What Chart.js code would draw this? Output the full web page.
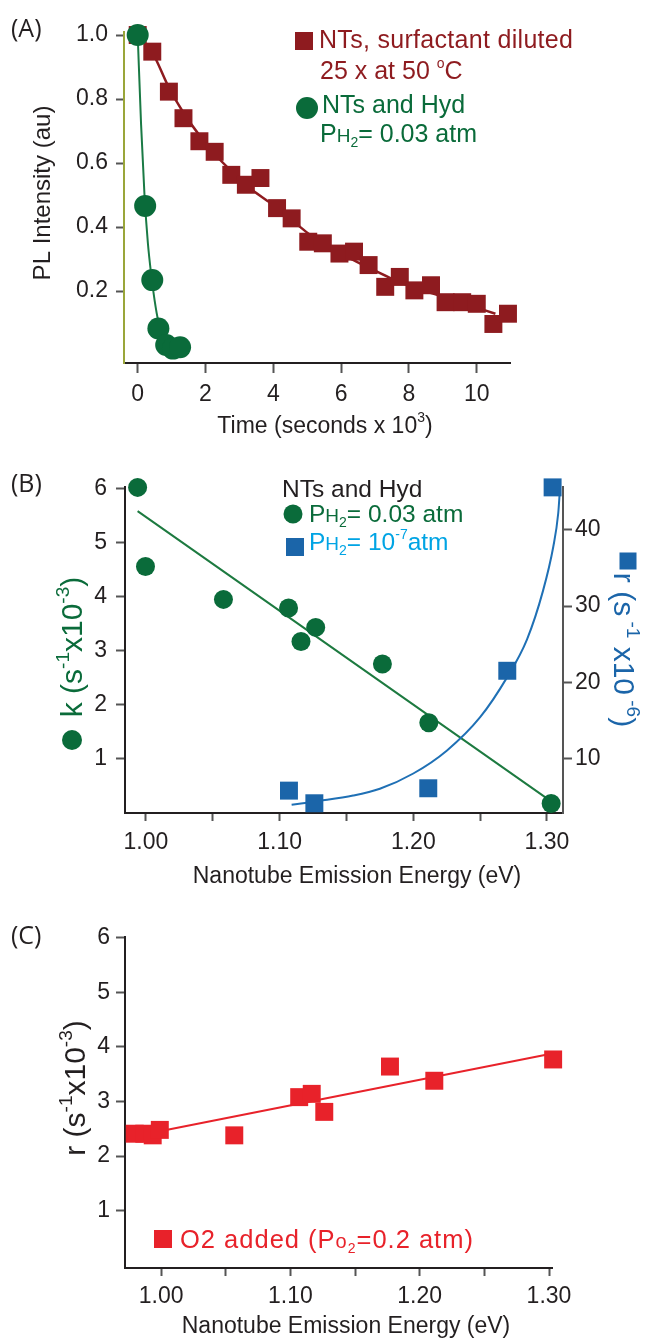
<!DOCTYPE html>
<html>
<head>
<meta charset="utf-8">
<script src="https://cdn.jsdelivr.net/npm/chart.js@4.4.1/dist/chart.umd.min.js"></script>
<style>
body { margin: 0; background: #fff; }
canvas { position: absolute; left: 0; }
</style>
</head>
<body>
<canvas id="panelA" width="653" height="440" style="top:0px"></canvas>
<canvas id="panelB" width="653" height="450" style="top:440px"></canvas>
<canvas id="panelC" width="653" height="450" style="top:890px"></canvas>
<script>
/* globals Chart: false */

// (A) PL decay
var timeSurf = [0, 0.43, 0.92, 1.35, 1.82, 2.27, 2.76, 3.19, 3.62, 4.11, 4.54, 5.03, 5.46,
                5.95, 6.38, 6.81, 7.3, 7.73, 8.16, 8.65, 9.08, 9.57, 10.0, 10.49, 10.92];
var plSurf = [1.0, 0.948, 0.823, 0.74, 0.668, 0.635, 0.563, 0.532, 0.553, 0.459, 0.427, 0.354, 0.349,
              0.317, 0.323, 0.281, 0.213, 0.244, 0.202, 0.218, 0.165, 0.165, 0.160, 0.097, 0.129];
var fitSurfT = [0, 0.43, 0.92, 1.35, 1.84, 2.33, 2.82, 3.31, 3.93, 4.54, 5.03, 5.64, 6.26,
                6.87, 7.48, 8.1, 8.71, 9.33, 9.94, 10.55];
var fitSurfY = [1.0, 0.946, 0.836, 0.757, 0.684, 0.621, 0.569, 0.521, 0.474, 0.422, 0.38, 0.338, 0.302,
                0.27, 0.239, 0.213, 0.192, 0.171, 0.15, 0.129];
var timeHyd = [0.0, 0.22, 0.43, 0.61, 0.84, 1.04, 1.25];
var plHyd = [1.0, 0.466, 0.234, 0.083, 0.031, 0.02, 0.024];
var fitHydT = [0, 0.1, 0.2, 0.3, 0.4, 0.5, 0.6, 0.8, 1.0, 1.3];
var fitHydY = [1.0, 0.72, 0.5, 0.35, 0.25, 0.17, 0.11, 0.055, 0.035, 0.022];
var timeTicks = [0, 2, 4, 6, 8, 10];
var plTicks = [0.2, 0.4, 0.6, 0.8, 1.0];

// (B) k and r against emission energy
var energyK = [0.9938, 0.9997, 1.058, 1.1067, 1.116, 1.127, 1.1769, 1.2116, 1.3031];
var kVals = [6.03, 4.56, 3.95, 3.79, 3.17, 3.43, 2.75, 1.66, 0.16];
var kFitX = [0.9938, 1.3031];
var kFitY = [5.59, 0.20];
var energyR = [1.107, 1.126, 1.2112, 1.2703, 1.3042];
var rVals = [5.75, 4.09, 6.06, 21.5, 45.6];
var rFitX = [1.109, 1.13, 1.155, 1.175, 1.20, 1.225, 1.25, 1.27, 1.285, 1.297, 1.3047, 1.3084, 1.3097];
var rFitY = [3.9, 4.4, 5.1, 6.0, 8.0, 11.0, 15.4, 20.6, 25.6, 32.0, 37.8, 42.2, 45.4];
var energyTicks = [1.00, 1.05, 1.10, 1.15, 1.20, 1.25, 1.30];
var kTicks = [1, 2, 3, 4, 5, 6];
var rTicks = [10, 20, 30, 40];

// (C) O2 added
var energyO2 = [0.9796, 0.987, 0.9935, 0.999, 1.0566, 1.1068, 1.1165, 1.1262, 1.177, 1.2113, 1.3032];
var rO2 = [2.41, 2.41, 2.38, 2.48, 2.38, 3.08, 3.14, 2.81, 3.64, 3.38, 3.77];
var o2FitX = [1.0, 1.3026];
var o2FitY = [2.46, 3.88];
var rO2Ticks = [1, 2, 3, 4, 5, 6];

var FONT = "'Liberation Sans', Arial, sans-serif";
var INK = '#231f20';
var DARK_RED = '#8e1b1f';
var GREEN = '#0a6b3a';
var BLUE = '#1b65a9';
var LIGHT_BLUE = '#00a4e4';
var RED = '#e8222a';

function pts(xs, ys) {
    return xs.map(function(x, i) { return {x: x, y: ys[i]}; });
}

// parts: [text, size, dy]; drawn along the baseline starting at x,y
function richText(ctx, x, y, rot, align, color, parts, spacing) {
    ctx.save();
    ctx.translate(x, y);
    ctx.rotate(rot);
    ctx.textBaseline = 'alphabetic';
    ctx.textAlign = 'left';
    ctx.fillStyle = color;
    if (spacing) { ctx.letterSpacing = spacing + 'px'; }
    var total = 0;
    var widths = parts.map(function(p) {
        ctx.font = p[1] + 'px ' + FONT;
        var w = ctx.measureText(p[0]).width;
        total += w;
        return w;
    });
    var cx = align === 'center' ? -total / 2 : 0;
    parts.forEach(function(p, i) {
        ctx.font = p[1] + 'px ' + FONT;
        ctx.fillText(p[0], cx, p[2] || 0);
        cx += widths[i];
    });
    ctx.restore();
}

function square(ctx, x, y, side, color) {
    ctx.fillStyle = color;
    ctx.fillRect(x - side / 2, y - side / 2, side, side);
}

function dot(ctx, x, y, r, color) {
    ctx.fillStyle = color;
    ctx.beginPath();
    ctx.arc(x, y, r, 0, Math.PI * 2);
    ctx.fill();
}

function panelLabel(ctx, text, x, y) {
    ctx.save();
    ctx.fillStyle = INK;
    ctx.font = "25px 'Open Sans', " + FONT;
    ctx.textBaseline = 'alphabetic';
    ctx.fillText(text, x, y);
    ctx.restore();
}

function axis(o) {
    return {
        type: 'linear',
        position: o.position,
        min: o.min,
        max: o.max,
        afterBuildTicks: function(scale) {
            scale.ticks = o.ticks.map(function(v) { return {value: v}; });
        },
        afterFit: function(scale) {
            if (o.width) { scale.width = o.width; }
            if (o.height) { scale.height = o.height; }
        },
        grid: {
            display: true,
            drawOnChartArea: false,
            drawTicks: true,
            tickLength: o.tickLength,
            tickColor: '#555',
            tickWidth: 2
        },
        border: {display: true, color: o.borderColor || INK, width: 2},
        ticks: {
            autoSkip: false,
            maxRotation: 0,
            padding: o.padding,
            color: INK,
            font: {family: FONT, size: 23},
            callback: o.label
        }
    };
}

function markers(xs, ys, color, style, radius, order, yAxisID) {
    return {
        data: pts(xs, ys),
        showLine: false,
        pointStyle: style,
        pointRadius: radius,
        pointHoverRadius: radius,
        backgroundColor: color,
        pointBorderWidth: 0,
        borderWidth: 0,
        clip: false,
        order: order,
        yAxisID: yAxisID || 'y'
    };
}

function fitLine(xs, ys, color, width, order, yAxisID) {
    return {
        data: pts(xs, ys),
        showLine: true,
        pointRadius: 0,
        pointHoverRadius: 0,
        borderColor: color,
        backgroundColor: color,
        borderWidth: width,
        cubicInterpolationMode: 'monotone',
        clip: false,
        order: order,
        yAxisID: yAxisID || 'y'
    };
}

function makeChart(id, datasets, scales, padding, draw) {
    return new Chart(document.getElementById(id), {
        type: 'scatter',
        data: {datasets: datasets},
        options: {
            responsive: false,
            animation: false,
            devicePixelRatio: 1,
            events: [],
            layout: {padding: padding},
            plugins: {legend: {display: false}, tooltip: {enabled: false}},
            scales: scales
        },
        plugins: [{id: 'notes', afterDraw: function(chart) { draw(chart.ctx); }}]
    });
}

function energyLabel(v) {
    return Math.round(v * 100) % 10 === 0 ? v.toFixed(2) : '';
}

// ---- panel A
makeChart('panelA', [
    markers(timeHyd, plHyd, GREEN, 'circle', 11, 1),
    fitLine(fitHydT, fitHydY, '#1a7a45', 2, 2),
    markers(timeSurf, plSurf, DARK_RED, 'rect', 12.7, 3),
    fitLine(fitSurfT, fitSurfY, DARK_RED, 2.5, 4)
], {
    x: axis({position: 'bottom', min: -0.404, max: 10.98, ticks: timeTicks, height: 77,
             tickLength: 10, padding: 8, label: function(v) { return String(v); }}),
    y: axis({position: 'left', min: -0.025, max: 1.0094, ticks: plTicks, width: 124,
             tickLength: 8, padding: 8, borderColor: '#9aa63a',
             label: function(v) { return v.toFixed(1); }})
}, {left: 0, right: 143, top: 32, bottom: 0}, function(ctx) {
    panelLabel(ctx, '(A)', 11, 37);
    richText(ctx, 325, 433, 0, 'center', INK,
             [['Time (seconds x 10', 23], ['3', 14, -11], [')', 23]]);
    richText(ctx, 50, 193, -Math.PI / 2, 'center', INK, [['PL Intensity (au)', 24]]);
    square(ctx, 304, 41, 18, DARK_RED);
    richText(ctx, 319, 48, 0, 'left', DARK_RED, [['NTs, surfactant diluted', 25]], 0.3);
    richText(ctx, 320, 79, 0, 'left', DARK_RED,
             [['25 x at 50 ', 25], ['o', 14, -11], ['C', 25]]);
    dot(ctx, 307, 108, 11, GREEN);
    richText(ctx, 322, 113, 0, 'left', GREEN, [['NTs and Hyd', 25]]);
    richText(ctx, 320, 142, 0, 'left', GREEN,
             [['P', 25], ['H', 19], ['2', 14, 5], ['= 0.03 atm', 25]]);
});

// ---- panel B
makeChart('panelB', [
    markers(energyR, rVals, BLUE, 'rect', 12.7, 1, 'yr'),
    markers(energyK, kVals, GREEN, 'circle', 9.5, 2),
    fitLine(rFitX, rFitY, '#1f70b5', 2, 3, 'yr'),
    fitLine(kFitX, kFitY, '#1d7a40', 2, 4)
], {
    x: axis({position: 'bottom', min: 0.98437, max: 1.31197, ticks: energyTicks, height: 77,
             tickLength: 8, padding: 8, label: energyLabel}),
    y: axis({position: 'left', min: -0.016, max: 6.037, ticks: kTicks, width: 125,
             tickLength: 9, padding: 9, label: function(v) { return String(v); }}),
    yr: axis({position: 'right', min: 2.81, max: 45.65, ticks: rTicks, width: 90,
              tickLength: 9, padding: 3, borderColor: '#555',
              label: function(v) { return String(v); }})
}, {left: 0, right: 0, top: 47, bottom: 0}, function(ctx) {
    panelLabel(ctx, '(B)', 11, 52);
    richText(ctx, 357, 443, 0, 'center', INK, [['Nanotube Emission Energy (eV)', 23]]);
    richText(ctx, 82, 207, -Math.PI / 2, 'center', GREEN,
             [['k (s', 30], ['-1', 19, -13], ['x10', 30], ['-3', 19, -13], [')', 30]]);
    dot(ctx, 72, 300, 10, GREEN);
    richText(ctx, 614, 210, Math.PI / 2, 'center', BLUE,
             [['r (s', 30], [' -1', 19, -13], [' x10', 30], [' -6', 19, -13], [')', 30]]);
    square(ctx, 628, 121, 17, BLUE);
    richText(ctx, 282, 57, 0, 'left', INK, [['NTs and Hyd', 24.5]]);
    dot(ctx, 293, 74, 9.5, GREEN);
    richText(ctx, 309, 82, 0, 'left', GREEN,
             [['P', 24.5], ['H', 19], ['2', 14, 5], ['= 0.03 atm', 24.5]]);
    square(ctx, 295, 107, 18, BLUE);
    richText(ctx, 309, 110, 0, 'left', LIGHT_BLUE,
             [['P', 24.5], ['H', 19], ['2', 14, 5], ['= 10', 24.5], ['-7', 14, -11], ['atm', 24.5]]);
});

// ---- panel C
makeChart('panelC', [
    markers(energyO2, rO2, RED, 'rect', 12.7, 1),
    fitLine(o2FitX, o2FitY, RED, 2, 2)
], {
    x: axis({position: 'bottom', min: 0.97208, max: 1.30232, ticks: energyTicks, height: 72,
             tickLength: 8, padding: 7, label: energyLabel}),
    y: axis({position: 'left', min: -0.0495, max: 6.0128, ticks: rO2Ticks, width: 125,
             tickLength: 9, padding: 6, label: function(v) { return String(v); }})
}, {left: 0, right: 101, top: 47, bottom: 0}, function(ctx) {
    panelLabel(ctx, '(C)', 11, 54);
    richText(ctx, 346, 443, 0, 'center', INK, [['Nanotube Emission Energy (eV)', 23]]);
    richText(ctx, 85, 198, -Math.PI / 2, 'center', INK,
             [['r (s', 30], ['-1', 19, -13], ['x10', 30], ['-3', 19, -13], [')', 30]]);
    square(ctx, 163, 349, 18, RED);
    richText(ctx, 180, 358, 0, 'left', RED,
             [['O2 added (P', 25.5], ['o', 20], ['2', 14, 5], ['=0.2 atm)', 25.5]], 1);
});
</script>
</body>
</html>
